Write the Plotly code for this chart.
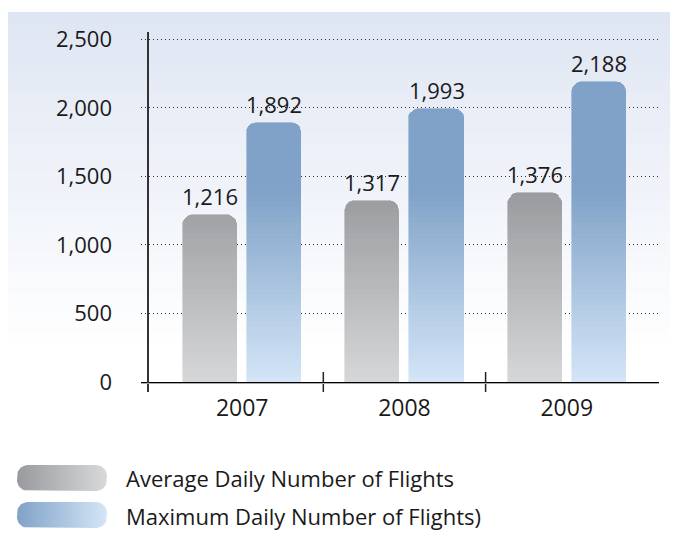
import numpy as np
import plotly.graph_objects as go

years = ["2007", "2008", "2009"]
avg_flights = [1216, 1317, 1376]
max_flights = [1892, 1993, 2188]
series_names = ["Average Daily Number of Flights", "Maximum Daily Number of Flights)"]
y_ticks = [0, 500, 1000, 1500, 2000, 2500]

W, H = 678, 548
PAGE_OFF = 8  # the page body puts the plot 8px in from the window corner
FONT = "Open Sans"
TXT = "#1a1a1a"


def mix(c0, c1, t):
    t = min(max(t, 0), 1)
    a = [int(c0[i:i + 2], 16) for i in (1, 3, 5)]
    b = [int(c1[i:i + 2], 16) for i in (1, 3, 5)]
    return "rgb(%d,%d,%d)" % tuple(round(a[i] + (b[i] - a[i]) * t) for i in range(3))


# window pixel -> paper fraction
def px(x):
    return (x - PAGE_OFF) / W


def py(y):
    return 1 - (y - PAGE_OFF) / H


fig = go.Figure()

# bars: each series split into horizontal bands so it can carry a vertical gradient
band = 40
xs = np.arange(len(years))
off, bw = 0.1975, 0.333
for vals, shift, c_low, c_high in [(avg_flights, -off, "#d6d7d9", "#999a9d"),
                                   (max_flights, off, "#d4e6f7", "#80a2c8")]:
    top = max(vals)
    k = 0
    while k * band < top:
        h = [min(v - k * band, band) if v > k * band else None for v in vals]
        col = mix(c_low, c_high, (k * band + band / 2) / 1400)
        fig.add_trace(go.Bar(
            x=xs + shift, y=h, width=bw,
            marker=dict(color=col, line=dict(width=0.6, color=col), cornerradius=10),
            showlegend=False, hoverinfo="skip",
        ))
        k += 1
    for i, v in enumerate(vals):
        fig.add_annotation(x=xs[i] + shift, y=v, text=f"{v:,}", showarrow=False,
                           yanchor="bottom", yshift=2,
                           font=dict(family=FONT, size=22, color=TXT))

# background panel fading to white
shapes = []
n = 34
for i in range(n):
    y0 = 12 + i * 10
    shapes.append(dict(type="rect", xref="paper", yref="paper", x0=px(7), x1=1,
                       y0=py(y0 + 10.5), y1=py(y0), layer="below", line_width=0,
                       fillcolor=mix("#dfe6f3", "#ffffff", i / (n - 1))))
# y axis line and category separators
shapes.append(dict(type="line", xref="paper", yref="paper", x0=px(148), x1=px(148),
                   y0=py(392), y1=py(32), line=dict(color="#333333", width=2)))
for b in [0.5, 1.5]:
    shapes.append(dict(type="line", xref="x", yref="paper", x0=b, x1=b,
                       y0=py(392), y1=py(372), line=dict(color="#222222", width=1.5)))
shapes.append(dict(type="line", xref="paper", yref="paper", x0=px(141), x1=px(659),
                   y0=py(383.5), y1=py(383.5), line=dict(color="#aaaaaa", width=1)))


# legend swatches: rounded pills with horizontal gradient
def pill(x0, y0, x1, y1, r):
    pts = []
    for cx, cy, a0 in [(x1 - r, y0 + r, -90), (x1 - r, y1 - r, 0), (x0 + r, y1 - r, 90), (x0 + r, y0 + r, 180)]:
        for a in np.linspace(a0, a0 + 90, 10):
            pts.append((cx + r * np.cos(np.radians(a)), cy + r * np.sin(np.radians(a))))
    pts.append(pts[0])
    return [p[0] - PAGE_OFF for p in pts], [p[1] - PAGE_OFF for p in pts]


for (y0, y1), (c0, c1), name, ty in zip([(465, 491), (502, 528)],
                                        [("#999a9d", "#d8d9db"), ("#80a2c8", "#d4e6f7")],
                                        series_names, [478, 516]):
    lx, ly = pill(17, y0, 107, y1, 11)
    fig.add_trace(go.Scatter(x=lx, y=ly, xaxis="x2", yaxis="y2", mode="lines", fill="toself",
                             line=dict(width=0),
                             fillgradient=dict(type="horizontal", colorscale=[[0, c0], [1, c1]]),
                             showlegend=False, hoverinfo="skip"))
    fig.add_annotation(x=px(124), y=py(ty), xref="paper", yref="paper", text=name,
                       showarrow=False, xanchor="left", yanchor="middle",
                       font=dict(family=FONT, size=22, color=TXT))

fig.update_layout(
    template="none",
    width=W, height=H,
    margin=dict(l=0, r=0, t=0, b=0, autoexpand=False),
    paper_bgcolor="white", plot_bgcolor="rgba(0,0,0,0)",
    barmode="stack", bargap=0,
    showlegend=False,
    shapes=shapes,
    font=dict(family=FONT, size=22, color=TXT),
    xaxis=dict(domain=[px(141), px(659)], range=[-0.6235, 2.5685], automargin=False,
               tickvals=list(xs), ticktext=years, ticks="", ticklabelstandoff=4,
               tickfont=dict(size=23),
               showline=True, linecolor="#000000", linewidth=2,
               showgrid=False, zeroline=False, fixedrange=True),
    yaxis=dict(domain=[py(382), py(32)], range=[0, 2553], tickvals=y_ticks, automargin=False,
               tickformat=",", ticks="", ticklabelstandoff=28,
               showgrid=True, gridcolor="#333333", gridwidth=1, griddash="1px,3px",
               showline=False, zeroline=False, fixedrange=True),
    xaxis2=dict(domain=[0, 1], range=[0, W], visible=False, fixedrange=True, automargin=False),
    yaxis2=dict(domain=[0, 1], range=[H, 0], visible=False, fixedrange=True, automargin=False),
)

fig.write_html("out.html")
